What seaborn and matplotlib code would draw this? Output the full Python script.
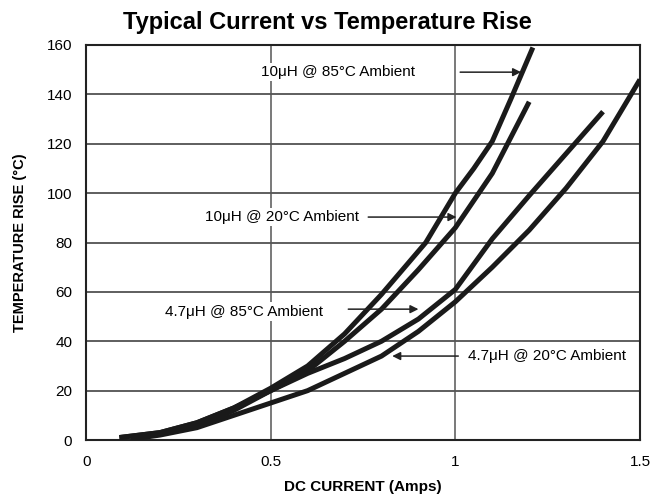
import pandas as pd
import matplotlib
matplotlib.use("Agg")
import matplotlib.pyplot as plt
import seaborn as sns

# Values (DC current in A, temperature rise in °C)
i_10uh_85 = [0.09, 0.2, 0.3, 0.4, 0.5, 0.6, 0.7, 0.8, 0.92, 1.0, 1.05, 1.1, 1.15, 1.21]
t_10uh_85 = [1, 3, 7, 13, 21, 30, 43, 59, 80, 100, 110, 121, 138, 159]

i_10uh_20 = [0.12, 0.2, 0.3, 0.4, 0.5, 0.6, 0.7, 0.8, 0.9, 1.0, 1.1, 1.2]
t_10uh_20 = [0.5, 2.5, 6, 12, 20, 28, 40, 53, 69, 86, 108, 137]

i_47uh_85 = [0.09, 0.2, 0.3, 0.4, 0.5, 0.6, 0.7, 0.8, 0.9, 1.0, 1.1, 1.2, 1.3, 1.4]
t_47uh_85 = [1, 3, 7, 13, 20, 27, 33, 40, 49, 61, 81.5, 99, 116, 133]

i_47uh_20 = [0.13, 0.2, 0.3, 0.4, 0.5, 0.6, 0.7, 0.8, 0.9, 1.0, 1.1, 1.2, 1.3, 1.4, 1.5]
t_47uh_20 = [0.5, 2, 5, 10, 15, 20, 27, 34, 44, 56, 70, 85, 102, 121, 146]

series_names = ["10μH @ 85°C Ambient", "10μH @ 20°C Ambient",
                "4.7μH @ 85°C Ambient", "4.7μH @ 20°C Ambient"]
x_ticks = [0, 0.5, 1, 1.5]
x_tick_labels = ["0", "0.5", "1", "1.5"]
y_ticks = [0, 20, 40, 60, 80, 100, 120, 140, 160]

frames = []
for name, xs, ys in zip(series_names,
                        [i_10uh_85, i_10uh_20, i_47uh_85, i_47uh_20],
                        [t_10uh_85, t_10uh_20, t_47uh_85, t_47uh_20]):
    frames.append(pd.DataFrame({"current": xs, "rise": ys, "curve": name}))
df = pd.concat(frames, ignore_index=True)

sns.set_style("white")
plt.rcParams['font.family'] = ['Liberation Sans', 'DejaVu Sans']
plt.rcParams['text.color'] = 'black'
plt.rcParams['axes.labelcolor'] = 'black'
plt.rcParams['xtick.color'] = 'black'
plt.rcParams['ytick.color'] = 'black'

fig = plt.figure(figsize=(6.68, 5), dpi=100)
ax = fig.add_axes([0.129, 0.12, 0.829, 0.79])

# grid first so curves sit on top
for y in y_ticks[1:-1]:
    ax.axhline(y, color="#333333", lw=1.1, zorder=1)
for x in x_ticks[1:-1]:
    ax.axvline(x, color="#555555", lw=1.1, zorder=1)

sns.lineplot(data=df, x="current", y="rise", units="curve", estimator=None,
             sort=False, color="#1a1a1a", lw=3.6, ax=ax, zorder=3,
             solid_capstyle="butt")

ax.set_xlim(0, 1.5)
ax.set_ylim(0, 160)
ax.set_xticks(x_ticks)
ax.set_xticklabels(x_tick_labels)
ax.set_yticks(y_ticks)
ax.tick_params(axis="both", length=0, labelsize=11)
ax.tick_params(axis="x", pad=11)
ax.tick_params(axis="y", pad=10)

for s in ax.spines.values():
    s.set_color("#222222")
    s.set_linewidth(1.5)

ax.set_xlabel("DC CURRENT (Amps)", fontsize=11, fontweight="bold", labelpad=8)
ax.set_ylabel("TEMPERATURE RISE (°C)", fontsize=10.5, fontweight="bold", labelpad=14)
fig.text(0.49, 0.956, "Typical Current vs Temperature Rise", fontsize=17,
         fontweight="bold", ha="center", va="center")

bbox = dict(facecolor="white", edgecolor="none", pad=1.5)
arrow = dict(arrowstyle="-|>", color="#222222", lw=1.1, mutation_scale=12,
             shrinkA=0, shrinkB=0)

ax.annotate("", xy=(1.178, 149), xytext=(1.013, 149), arrowprops=arrow, zorder=4)
ax.text(0.89, 149, series_names[0], ha="right", va="center", fontsize=11,
        bbox=bbox, zorder=5)

ax.annotate("", xy=(1.003, 90.3), xytext=(0.764, 90.3), arrowprops=arrow, zorder=4)
ax.text(0.74, 90.3, series_names[1], ha="right", va="center", fontsize=11,
        bbox=bbox, zorder=5)

ax.annotate("", xy=(0.90, 53), xytext=(0.71, 53), arrowprops=arrow, zorder=4)
ax.text(0.642, 52, series_names[2], ha="right", va="center", fontsize=11,
        bbox=bbox, zorder=5)

ax.annotate("", xy=(0.829, 34), xytext=(1.008, 34), arrowprops=arrow, zorder=4)
ax.text(1.033, 34, series_names[3], ha="left", va="center", fontsize=11,
        bbox=bbox, zorder=5)

fig.savefig("out.png", dpi=100)
